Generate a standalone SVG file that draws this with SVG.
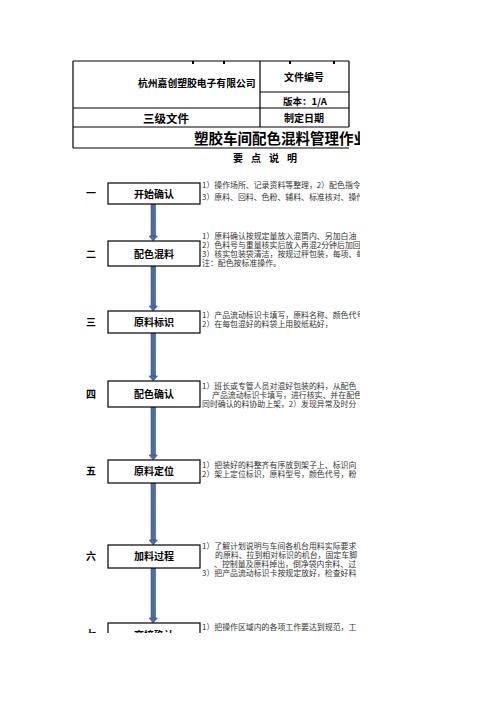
<svg xmlns="http://www.w3.org/2000/svg" width="496" height="702" viewBox="0 0 496 702">
<defs>
<style>
.t{font-family:"Noto Sans CJK SC","Noto Sans",sans-serif;fill:#000}
.b{font-weight:700}
.d{font-family:"Noto Sans CJK SC","Noto Sans",sans-serif;font-size:7.9px;fill:#333}
.ln{stroke:#000;stroke-width:1.2;fill:none}
.box{fill:#fff;stroke:#000;stroke-width:1.2}
.lab{font-size:10px;font-weight:700;text-anchor:middle}
.num{font-size:10px;font-weight:700;text-anchor:middle}
.sh{fill:#4c6ea3;stroke:#395684;stroke-width:0.6}
</style>
<clipPath id="page"><rect x="0" y="0" width="360" height="633"/></clipPath>
</defs>
<rect width="496" height="702" fill="#fff"/>
<g clip-path="url(#page)">
<g id="header">
<path class="ln" d="M73,61H349M260,92H349M73,108H349M73,127H349M73,148H349M73,61V148M260,61V127M349,61V127"/>
<g fill="#000"><rect x="192" y="61" width="2" height="3"/><rect x="223" y="61" width="2" height="3"/><rect x="289" y="61" width="2" height="3"/><rect x="333" y="61" width="2" height="3"/></g>
<text class="t b" x="138" y="87" font-size="9.8">杭州嘉创塑胶电子有限公司</text>
<text class="t b" x="304" y="81" font-size="10" text-anchor="middle">文件编号</text>
<text class="t b" x="305" y="104.5" font-size="9.5" text-anchor="middle">版本：1/A</text>
<text class="t b" x="166" y="122.5" font-size="11.5" text-anchor="middle">三级文件</text>
<text class="t b" x="304" y="121.5" font-size="10" text-anchor="middle">制定日期</text>
<text class="t b" x="194" y="143.5" font-size="14.5">塑胶车间配色混料管理作业指导书</text>
<text class="t b" x="233" y="161.5" font-size="10" letter-spacing="8">要点说明</text>
</g>
<g id="connectors">
<rect class="sh" x="151" y="204" width="4.5" height="32"/><path class="sh" d="M149,236H157.5L153.2,241Z"/>
<rect class="sh" x="151" y="266" width="4.5" height="40"/><path class="sh" d="M149,306H157.5L153.2,311Z"/>
<rect class="sh" x="151" y="333" width="4.5" height="43"/><path class="sh" d="M149,376H157.5L153.2,381Z"/>
<rect class="sh" x="151" y="407" width="4.5" height="48"/><path class="sh" d="M149,455H157.5L153.2,460Z"/>
<rect class="sh" x="151" y="483" width="4.5" height="57"/><path class="sh" d="M149,540H157.5L153.2,545Z"/>
<rect class="sh" x="151" y="568" width="4.5" height="50"/><path class="sh" d="M149,618H157.5L153.2,623Z"/>
</g>
<g id="n1">
<text class="t num" x="91" y="197">一</text>
<rect class="box" x="108" y="183" width="92" height="21"/>
<text class="t lab" x="154" y="197.5">开始确认</text>
<text class="d" x="202" y="188">1）操作场所、记录资料等整理，2）配色指令单</text>
<text class="d" x="202" y="200">3）原料、回料、色粉、辅料、标准核对、操作</text>
</g>
<g id="n2">
<text class="t num" x="91" y="258">二</text>
<rect class="box" x="108" y="241" width="92" height="25"/>
<text class="t lab" x="154" y="257.5">配色混料</text>
<text class="d" x="202" y="238.5">1）原料确认按规定量放入混筒内、另加白油</text>
<text class="d" x="202" y="247.8">2）色料号与重量核实后放入再混2分钟后加回</text>
<text class="d" x="202" y="257">3）核实包装袋清洁，按规过秤包装，每项、每</text>
<text class="d" x="202" y="266">注：配色按标准操作。</text>
</g>
<g id="n3">
<text class="t num" x="91" y="326">三</text>
<rect class="box" x="108" y="311" width="92" height="22"/>
<text class="t lab" x="154" y="326">原料标识</text>
<text class="d" x="202" y="317.8">1）产品流动标识卡填写，原料名称、颜色代号</text>
<text class="d" x="202" y="327">2）在每包混好的料袋上用胶纸粘好，</text>
</g>
<g id="n4">
<text class="t num" x="91" y="397.5">四</text>
<rect class="box" x="108" y="381" width="92" height="26"/>
<text class="t lab" x="154" y="397.5">配色确认</text>
<text class="d" x="202" y="388.5">1）班长或专管人员对混好包装的料，从配色</text>
<text class="d" x="212" y="397.8">产品流动标识卡填写，进行核实、并在配色</text>
<text class="d" x="202" y="407">同时确认的料协助上架，2）发现异常及时分</text>
</g>
<g id="n5">
<text class="t num" x="91" y="475">五</text>
<rect class="box" x="108" y="460" width="92" height="23"/>
<text class="t lab" x="154" y="475">原料定位</text>
<text class="d" x="202" y="467.8">1）把装好的料整齐有序放到架子上、标识向</text>
<text class="d" x="202" y="477">2）架上定位标识，原料型号，颜色代号，粉</text>
</g>
<g id="n6">
<text class="t num" x="91" y="560">六</text>
<rect class="box" x="108" y="545" width="92" height="23"/>
<text class="t lab" x="154" y="560">加料过程</text>
<text class="d" x="202" y="548.5">1）了解计划说明与车间各机台用料实际要求</text>
<text class="d" x="215" y="557.8">的原料、拉到相对标识的机台，固定车脚</text>
<text class="d" x="214" y="567">、控制量及原料掉出，倒净袋内余料、过</text>
<text class="d" x="202" y="576">3）把产品流动标识卡按规定放好，检查好料</text>
</g>
<g id="n7">
<text class="t num" x="91" y="638">七</text>
<rect class="box" x="108" y="623" width="92" height="24"/>
<text class="t lab" x="154" y="638.5">交接确认</text>
<text class="d" x="202" y="629.5">1）把操作区域内的各项工作要达到规范，工</text>
</g>
</g>
</svg>
